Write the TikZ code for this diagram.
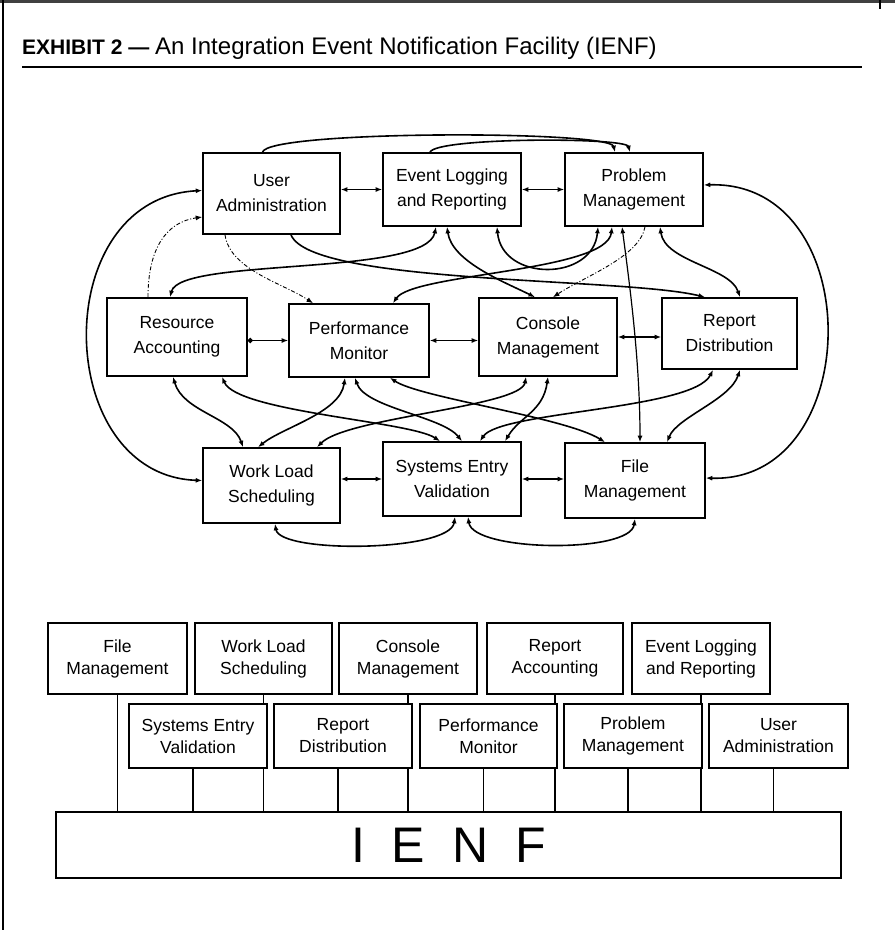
\documentclass[tikz,border=0pt]{standalone}
\usepackage{fontspec}
\setmainfont{Liberation Sans}
\usetikzlibrary{arrows.meta}
\begin{document}
\begin{tikzpicture}[x=1pt,y=-1pt,
  box/.style={draw,line width=1.6pt,align=center,inner sep=0pt,font=\fontsize{17.5}{25}\selectfont},
  lbox/.style={draw,fill=white,line width=1.4pt,align=center,inner sep=0pt,minimum height=70pt,font=\fontsize{17.5}{22}\selectfont},
  tip/.tip={Latex[length=6.5pt,width=5pt]},
  link/.style={line width=1.6pt,tip-tip},
  linkr/.style={line width=1.6pt,-tip},
  dlink/.style={line width=0.9pt,dash pattern=on 4pt off 2pt on 1pt off 2pt,-tip},
  harrow/.style={line width=1.6pt,tip-tip},
  stem/.style={line width=1.1pt}
]
\useasboundingbox (0,0) rectangle (895,930);

% page frame and heading
\draw[line width=3pt,black!75] (0,1.5) -- (895,1.5);
\draw[line width=1.2pt] (3,0) -- (3,930);
\draw[line width=1.2pt] (880,0) -- (880,9);
\node[anchor=base west,inner sep=0pt] (title) at (22,54)
  {\fontsize{21}{25}\selectfont\textbf{EXHIBIT 2 —} \fontsize{24}{28}\selectfont An Integration Event Notification Facility (IENF)};
\draw[line width=1.3pt] (22,67) -- (862,67);

% ---------- network of functions ----------
\node[box,minimum width=137pt,minimum height=81pt] (ua)  at (271.5,193.5) {User\\Administration};
\node[box,minimum width=138pt,minimum height=73pt] (elr) at (452,189.5)   {Event Logging\\and Reporting};
\node[box,minimum width=138pt,minimum height=73pt] (pm)  at (634,189.5)   {Problem\\Management};
\node[box,minimum width=140pt,minimum height=78pt] (ra)  at (177,337)     {Resource\\Accounting};
\node[box,minimum width=140pt,minimum height=73pt] (pf)  at (359,340.5)   {Performance\\Monitor};
\node[box,minimum width=138pt,minimum height=78pt] (cm)  at (548,337)     {Console\\Management};
\node[box,minimum width=135pt,minimum height=71pt] (rd)  at (729.5,333.5) {Report\\Distribution};
\node[box,minimum width=137pt,minimum height=75pt] (wl)  at (271.5,485.5) {Work Load\\Scheduling};
\node[box,minimum width=138pt,minimum height=74pt] (se)  at (452,479)     {Systems Entry\\Validation};
\node[box,minimum width=140pt,minimum height=75pt] (fm)  at (635,480.5)   {File\\Management};

% neighbours in a row
\draw[harrow] (ua.east |- elr) -- (elr.west);
\draw[harrow] (elr.east) -- (pm.west);
\draw[line width=1.6pt,{Circle[length=5pt]}-tip] (ra.east |- pf) -- (pf.west);
\draw[harrow] (pf.east) -- (pf.east -| cm.west);
\draw[harrow] (cm.east) -- (cm.east -| rd.west);
\draw[harrow] (wl.east |- se) -- (se.west);
\draw[harrow] (se.east) -- (se.east -| fm.west);

% arcs above the top row
\draw[linkr] ([xshift=-9pt]ua.north) .. controls +(5,-22) and +(-5,-22) .. ([xshift=-19pt]pm.north);
\draw[linkr] ([xshift=-22pt]elr.north) .. controls +(6,-15) and +(-4,-15) .. ([xshift=-4pt]pm.north);

% outer arcs
\draw[link] ([yshift=3pt]ua.west) .. controls +(-155,8) and +(-150,-5) .. ([yshift=5pt]wl.west);
\draw[link] ([yshift=4.5pt]pm.east) .. controls +(165,-5) and +(160,5) .. ([yshift=2.5pt]fm.east);

% top row to middle row
\draw[dlink] ([xshift=-29pt]ra.north) .. controls +(0,-50) and +(-35,5) .. ([yshift=-23.5pt]ua.west);
\draw[link] ([xshift=-7pt]ra.north) .. controls +(10,-40) and +(-10,50) .. ([xshift=-16pt]elr.south);
\draw[dlink] ([xshift=-46.5pt]ua.south) .. controls +(5,35) and +(-30,-20) .. ([xshift=-46pt]pf.north);
\draw[linkr] ([xshift=19.5pt]ua.south) .. controls +(20,50) and +(-80,-20) .. ([xshift=-24.5pt]rd.north);
\draw[link] ([xshift=-5pt]elr.south) .. controls +(5,35) and +(-30,-15) .. ([xshift=-13pt]cm.north);
\draw[link] ([xshift=45pt]elr.south) .. controls +(5,55) and +(-5,55) .. ([xshift=-36pt]pm.south);
\draw[dlink] ([xshift=11pt]pm.south) .. controls +(-5,30) and +(30,-20) .. ([xshift=5pt]cm.north);
\draw[link] ([xshift=26pt]pm.south) .. controls +(5,35) and +(-10,-30) .. ([xshift=10.5pt]rd.north);
\draw[link,line width=1.2pt] ([xshift=-12pt]pm.south) .. controls +(8,60) and +(0,-80) .. ([xshift=5pt]fm.north);
\draw[link] ([xshift=34pt]pf.north) .. controls +(20,-30) and +(-5,45) .. ([xshift=-22pt]pm.south);

% middle row to bottom row
\draw[link] ([xshift=-4pt]ra.south) .. controls +(10,35) and +(-10,-30) .. ([xshift=-28.5pt]wl.north);
\draw[link] ([xshift=45pt]ra.south) .. controls +(15,35) and +(-30,-20) .. ([xshift=-12pt]se.north);
\draw[link] ([xshift=-14pt]pf.south) .. controls +(-5,35) and +(25,-20) .. ([xshift=-13.5pt]wl.north);
\draw[link] ([xshift=-4pt]pf.south) .. controls +(10,30) and +(-20,-25) .. ([xshift=10pt]se.north);
\draw[link] ([xshift=31pt]pf.south) .. controls +(30,20) and +(-40,-25) .. ([xshift=-30pt]fm.north);
\draw[link] ([xshift=45.5pt]wl.north) .. controls +(30,-30) and +(-5,30) .. ([xshift=-22pt]cm.south);
\draw[link] (cm.south) .. controls +(-5,35) and +(15,-25) .. ([xshift=53pt]se.north);
\draw[link] ([xshift=28pt]se.north) .. controls +(20,-30) and +(-20,40) .. ([xshift=-16.5pt]rd.south);
\draw[link] ([xshift=32pt]fm.north) .. controls +(10,-25) and +(-10,30) .. ([xshift=10.5pt]rd.south);

% below the bottom row
\draw[link] ([xshift=3pt]se.south) .. controls +(-5,35) and +(5,30) .. ([xshift=3.5pt]wl.south);
\draw[link] ([xshift=16pt]se.south) .. controls +(5,35) and +(-5,35) .. (fm.south);

% ---------- functions on the IENF ----------
\node[draw,line width=1.5pt,minimum width=785pt,minimum height=66pt,inner sep=0pt,
      font=\fontsize{50}{50}\selectfont] (ienf) at (448.5,845)
  {I\hspace{27pt}E\hspace{27pt}N\hspace{27pt}F};

\node[lbox,minimum width=139pt,minimum height=71pt] (lfm)  at (117.5,658.5) {File\\Management};
\node[lbox,minimum width=137pt,minimum height=71pt] (lwl)  at (263.5,658.5) {Work Load\\Scheduling};
\node[lbox,minimum width=138pt,minimum height=71pt] (lcm)  at (408,658.5)   {Console\\Management};
\node[lbox,minimum width=136pt,minimum height=71pt] (lra)  at (555,658.5)   {Report\\Accounting};
\node[lbox,minimum width=138pt,minimum height=71pt] (lelr) at (701,658.5)   {Event Logging\\and Reporting};

\draw[stem] (lfm.south)  -- (lfm.south |- ienf.north);
\draw[stem] (lwl.south)  -- (lwl.south |- ienf.north);
\draw[stem] (lcm.south)  -- (lcm.south |- ienf.north);
\draw[stem] (lra.south)  -- (lra.south |- ienf.north);
\draw[stem] (lelr.south) -- (lelr.south |- ienf.north);

\node[lbox,minimum width=138pt,minimum height=64pt] (lse) at (198,736)   {Systems Entry\\Validation};
\node[lbox,minimum width=138pt,minimum height=64pt] (lrd) at (343,736)   {Report\\Distribution};
\node[lbox,minimum width=137pt,minimum height=64pt] (lpf) at (488.5,736) {Performance\\Monitor};
\node[lbox,minimum width=138pt,minimum height=64pt] (lpm) at (633,736)   {Problem\\Management};
\node[lbox,minimum width=139pt,minimum height=64pt] (lua) at (778.5,736) {User\\Administration};

\foreach \n in {lse,lrd,lpf,lpm,lua}
  \draw[stem] ([xshift=-5pt]\n.south) -- ([xshift=-5pt]\n.south |- ienf.north);
\end{tikzpicture}
\end{document}
